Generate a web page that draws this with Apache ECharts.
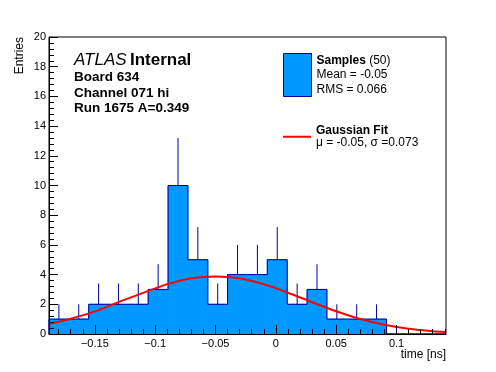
<!DOCTYPE html>
<html><head><meta charset="utf-8">
<script src="https://cdn.jsdelivr.net/npm/echarts@6/dist/echarts.min.js"></script>
<style>html,body{margin:0;padding:0;background:#fff}#c{width:496px;height:372px}</style>
</head><body><div id="c"></div>
<script>
// ---- data ----
const binEdges = [-0.188, -0.1716, -0.1551, -0.1387, -0.1222, -0.1058, -0.0893, -0.0729, -0.0564, -0.0400,
                  -0.0235, -0.0071, 0.0094, 0.0259, 0.0423, 0.0588, 0.0752, 0.0917, 0.1081, 0.1246, 0.141];
const counts   = [1, 1, 2, 2, 2, 3, 10, 5, 2, 4, 4, 5, 2, 3, 1, 1, 1, 0, 0, 0];
const errTop   = [2, 2, 3.4, 3.4, 3.4, 4.7, 13.2, 7.2, 3.4, 6, 6, 7.2, 3.4, 4.7, 2, 2, 2, 0, 0, 0];
const fitX = [-0.188, -0.17, -0.15, -0.13, -0.11, -0.09, -0.07, -0.05, -0.03, -0.01, 0.01, 0.03, 0.05, 0.07, 0.09, 0.11, 0.13, 0.141];
const fitY = [0.68, 1.03, 1.52, 2.16, 2.77, 3.36, 3.76, 3.88, 3.76, 3.36, 2.78, 2.14, 1.53, 1.01, 0.62, 0.35, 0.18, 0.13];
const xMajorTicks = [-0.15, -0.1, -0.05, 0, 0.05, 0.1];
const xMinorTicks = [-0.18, -0.17, -0.16, -0.14, -0.13, -0.12, -0.11, -0.09, -0.08, -0.07, -0.06, -0.04, -0.03, -0.02, -0.01,
                     0.01, 0.02, 0.03, 0.04, 0.06, 0.07, 0.08, 0.09, 0.11, 0.12, 0.13, 0.14];
const nEntries = 50, meanTxt = '-0.05', rmsTxt = '0.066', muTxt = '-0.05', sigmaTxt = '0.073';
const infoLines = ['Board 634', 'Channel 071 hi', 'Run 1675 A=0.349'];

// ---- build ----
const FF = "'Liberation Sans', Arial, Helvetica, sans-serif";
const FILL = '#0099ff', LINE = '#000099', RED = '#ff0000';
const xMin = binEdges[0], xMax = binEdges[binEdges.length - 1];

const histData = counts.map((c, i) => [binEdges[i], binEdges[i + 1], c]);
const errData = counts.map((c, i) => [(binEdges[i] + binEdges[i + 1]) / 2, c, errTop[i]]);
const outline = [[binEdges[0], 0]];
counts.forEach((c, i) => outline.push([binEdges[i], c]));
outline.push([xMax, 0]);
const fitData = fitX.map((x, i) => [x, fitY[i]]);

const fmtX = v => v === 0 ? '0' : (v < 0 ? '\u2212' + String(-v) : String(v));

const chart = echarts.init(document.getElementById('c'), null, {renderer: 'canvas'});
chart.setOption({
  animation: false,
  backgroundColor: '#fff',
  textStyle: {fontFamily: FF},
  grid: {left: 49, right: 50, top: 37, bottom: 38, show: true, borderColor: '#000', borderWidth: 1, backgroundColor: 'transparent'},
  xAxis: [
    {type: 'value', min: xMin, max: xMax, position: 'bottom', z: 10,
     axisLine: {show: true, onZero: false, lineStyle: {color: '#000', width: 1}},
     axisTick: {show: true, inside: true, length: 9, customValues: xMajorTicks, lineStyle: {color: '#000'}},
     axisLabel: {show: true, customValues: xMajorTicks, formatter: fmtX, color: '#000', fontSize: 11, fontFamily: FF, margin: 4},
     splitLine: {show: false},
     name: 'time [ns]', nameLocation: 'end', nameGap: 0,
     nameTextStyle: {align: 'right', verticalAlign: 'top', padding: [15, 0, 0, 0], fontSize: 12, color: '#000', fontFamily: FF}},
    {type: 'value', min: xMin, max: xMax, position: 'bottom', z: 10,
     axisLine: {show: false, onZero: false},
     axisTick: {show: true, inside: true, length: 5, customValues: xMinorTicks, lineStyle: {color: '#000'}},
     axisLabel: {show: false}, splitLine: {show: false}}
  ],
  yAxis: {type: 'value', min: 0, max: 20, interval: 2, z: 10,
    axisLine: {show: true, onZero: false, lineStyle: {color: '#000', width: 1}},
    axisTick: {show: true, inside: true, length: 9, lineStyle: {color: '#000'}},
    minorTick: {show: true, splitNumber: 5, length: 5, lineStyle: {color: '#000'}},
    axisLabel: {color: '#000', fontSize: 11, fontFamily: FF, margin: 3},
    splitLine: {show: false}, minorSplitLine: {show: false}},
  legend: [
    {data: [{name: 'Samples', icon: 'rect', itemStyle: {color: FILL, borderColor: LINE, borderWidth: 1}}],
     left: 283, top: 53, padding: 0, itemWidth: 28, itemHeight: 43, selectedMode: false,
     formatter: () => '{b|Samples} (' + nEntries + ')\nMean = ' + meanTxt + '\nRMS = ' + rmsTxt,
     textStyle: {fontSize: 12, lineHeight: 14.5, color: '#000', fontFamily: FF,
       rich: {b: {fontWeight: 'bold', fontSize: 12, lineHeight: 14.5, color: '#000', fontFamily: FF}}}},
    {data: [{name: 'Gaussian Fit', icon: 'rect', itemStyle: {color: RED}}],
     left: 283, top: 125, padding: 0, itemWidth: 28, itemHeight: 2, selectedMode: false,
     formatter: () => '{b|Gaussian Fit}\n\u03bc = ' + muTxt + ', \u03c3 =' + sigmaTxt,
     textStyle: {fontSize: 12, lineHeight: 11.5, color: '#000', fontFamily: FF,
       rich: {b: {fontWeight: 'bold', fontSize: 12, lineHeight: 11.5, color: '#000', fontFamily: FF}}}}
  ],
  graphic: [
    {type: 'text', x: 74, y: 60, style: {text: '{a|ATLAS} {b|Internal}', verticalAlign: 'middle',
      rich: {a: {fontStyle: 'italic', fontSize: 17, fontFamily: FF, fill: '#000'}, b: {fontWeight: 'bold', fontSize: 17, fontFamily: FF, fill: '#000'}}}},
    ...infoLines.map((t, i) => ({type: 'text', x: 74, y: 77 + i * 15.8,
      style: {text: t, fontSize: 13.5, fontWeight: 'bold', fontFamily: FF, fill: '#000', verticalAlign: 'middle'}})),
    {type: 'text', x: 20, y: 37, rotation: Math.PI / 2,
      style: {text: 'Entries', fontSize: 12, fontFamily: FF, fill: '#000', align: 'right', verticalAlign: 'middle'}}
  ],
  series: [
    {type: 'custom', name: 'Samples', z: 2, itemStyle: {color: FILL},
     encode: {x: [0, 1], y: 2}, data: histData,
     renderItem: function (params, api) {
       const lo = api.value(0), hi = api.value(1), c = api.value(2);
       if (!c) return null;
       const p0 = api.coord([lo, 0]), p1 = api.coord([hi, c]);
       return {type: 'rect', shape: {x: p0[0], y: p1[1], width: p1[0] - p0[0], height: p0[1] - p1[1]},
               style: {fill: FILL, stroke: FILL, lineWidth: 1}};
     }},
    {type: 'custom', name: 'errors', z: 3,
     encode: {x: 0, y: [1, 2]}, data: errData,
     renderItem: function (params, api) {
       const x = api.value(0), c = api.value(1), t = api.value(2);
       if (!c) return null;
       const a = api.coord([x, c]), b = api.coord([x, t]);
       return {type: 'line', shape: {x1: a[0], y1: a[1], x2: b[0], y2: b[1]}, style: {stroke: LINE, lineWidth: 1}};
     }},
    {type: 'line', name: 'outline', z: 4, step: 'end', symbol: 'none', data: outline,
     lineStyle: {color: LINE, width: 1}, itemStyle: {color: LINE}},
    {type: 'line', name: 'Gaussian Fit', z: 5, smooth: 0.3, symbol: 'none', data: fitData,
     lineStyle: {color: RED, width: 2}, itemStyle: {color: RED}}
  ]
});
</script></body></html>
